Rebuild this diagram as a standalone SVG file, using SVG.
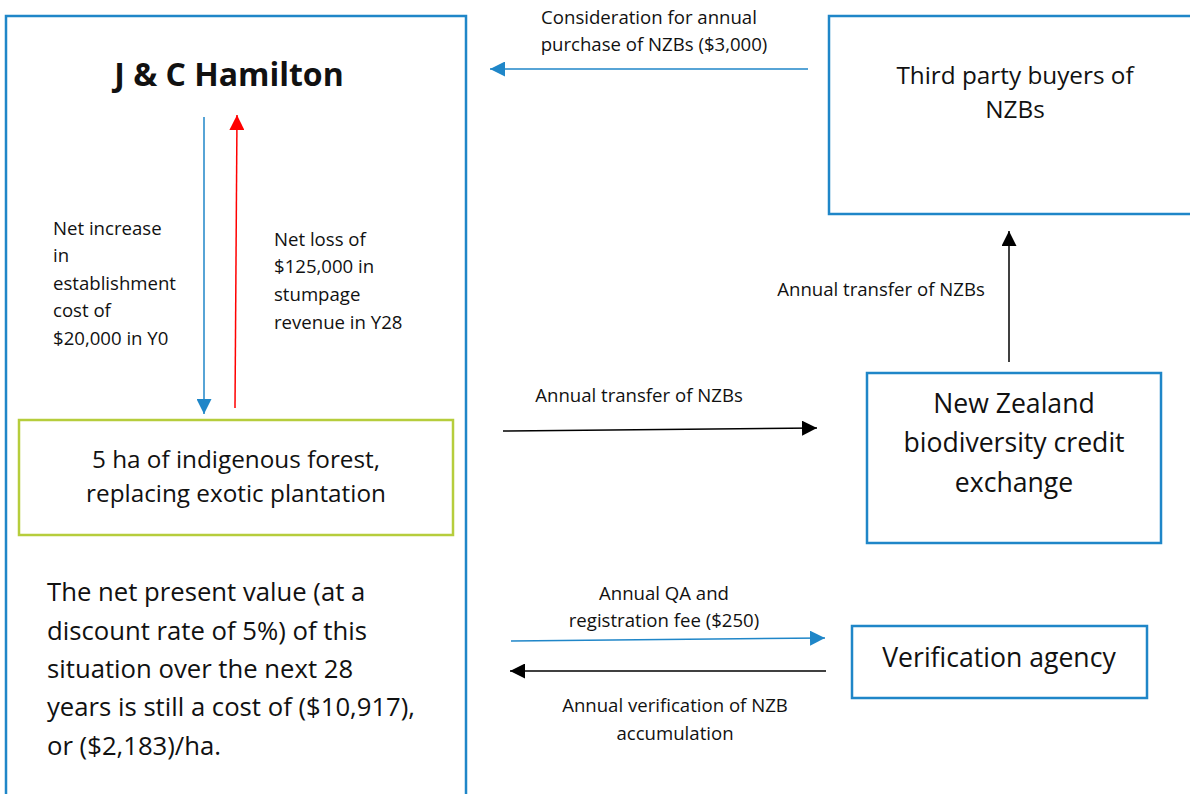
<svg xmlns="http://www.w3.org/2000/svg" width="1190" height="794" viewBox="0 0 1190 794">
<style>
text{font-family:"Open Sans","Noto Sans","Liberation Sans",sans-serif;fill:#111}
.box{fill:#fff;stroke:#1f86c8;stroke-width:2.5}
.green{fill:#fff;stroke:#b6cd3c;stroke-width:2.5}
.s{font-size:18.6px}
.m{font-size:24.3px}
.l{font-size:26.6px}
.c{text-anchor:middle}
.blue{stroke:#1f86c8;stroke-width:1.5;fill:none}
.red{stroke:#ff0000;stroke-width:1.5;fill:none}
.blk{stroke:#000;stroke-width:1.5;fill:none}
</style>
<defs>
<marker id="hb15" viewBox="0 0 10 10" refX="10" refY="5" markerWidth="15" markerHeight="15" markerUnits="userSpaceOnUse" orient="auto"><path d="M0,0L10,5L0,10z" fill="#1f86c8"/></marker>
<marker id="hr15" viewBox="0 0 10 10" refX="10" refY="5" markerWidth="15" markerHeight="15" markerUnits="userSpaceOnUse" orient="auto"><path d="M0,0L10,5L0,10z" fill="#ff0000"/></marker>
<marker id="hk15" viewBox="0 0 10 10" refX="10" refY="5" markerWidth="15" markerHeight="15" markerUnits="userSpaceOnUse" orient="auto"><path d="M0,0L10,5L0,10z" fill="#000"/></marker>
</defs>
<rect width="1190" height="794" fill="#fff"/>
<g id="hamilton">
<rect class="box" x="6" y="16" width="460" height="800"/>
<text x="229" y="86" class="c" style="font-size:32px;font-weight:bold">J &amp; C Hamilton</text>
<text x="47" y="601" style="font-size:25.7px">The net present value (at a</text>
<text x="47" y="640" style="font-size:25.7px">discount rate of 5%) of this</text>
<text x="47" y="678" style="font-size:25.7px">situation over the next 28</text>
<text x="47" y="716" style="font-size:25.7px">years is still a cost of ($10,917),</text>
<text x="47" y="755" style="font-size:25.7px">or ($2,183)/ha.</text>
</g>
<g id="forest">
<rect class="green" x="19" y="420" width="434" height="115"/>
<text x="236" y="468" class="c m">5 ha of indigenous forest,</text>
<text x="236" y="502" class="c m">replacing exotic plantation</text>
</g>
<g id="buyers">
<rect class="box" x="829" y="16" width="380" height="198"/>
<text x="1015" y="84" class="c m">Third party buyers of</text>
<text x="1015" y="118" class="c m">NZBs</text>
</g>
<g id="exchange">
<rect class="box" x="867" y="373" width="294" height="170"/>
<text x="1014" y="413" class="c l">New Zealand</text>
<text x="1014" y="452" class="c l">biodiversity credit</text>
<text x="1014" y="492" class="c l">exchange</text>
</g>
<g id="verification">
<rect class="box" x="852" y="626" width="295" height="72"/>
<text x="999" y="667" class="c l">Verification agency</text>
</g>
<g id="connectors">
<line class="blue" x1="204" y1="117" x2="204" y2="414" marker-end="url(#hb15)"/>
<line class="red" x1="235" y1="408" x2="237" y2="115" marker-end="url(#hr15)"/>
<line class="blue" x1="808" y1="69" x2="490" y2="69" marker-end="url(#hb15)"/>
<line class="blk" x1="1009" y1="362" x2="1009" y2="231" marker-end="url(#hk15)"/>
<line class="blk" x1="503" y1="431" x2="817" y2="428" marker-end="url(#hk15)"/>
<line class="blue" x1="511" y1="641" x2="825" y2="638" marker-end="url(#hb15)"/>
<line class="blk" x1="826" y1="671" x2="510" y2="671" marker-end="url(#hk15)"/>
<text x="53" y="235" class="s">Net increase</text>
<text x="53" y="262" class="s">in</text>
<text x="53" y="290" class="s">establishment</text>
<text x="53" y="317" class="s">cost of</text>
<text x="53" y="345" class="s">$20,000 in Y0</text>
<text x="274" y="246" class="s">Net loss of</text>
<text x="274" y="273" class="s">$125,000 in</text>
<text x="274" y="301" class="s">stumpage</text>
<text x="274" y="329" class="s">revenue in Y28</text>
<text x="649" y="24" class="c s">Consideration for annual</text>
<text x="654" y="51" class="c s">purchase of NZBs ($3,000)</text>
<text x="881" y="296" class="c s">Annual transfer of NZBs</text>
<text x="639" y="402" class="c s">Annual transfer of NZBs</text>
<text x="664" y="600" class="c s">Annual QA and</text>
<text x="664" y="627" class="c s">registration fee ($250)</text>
<text x="675" y="712" class="c s">Annual verification of NZB</text>
<text x="675" y="740" class="c s">accumulation</text>
</g>
</svg>
